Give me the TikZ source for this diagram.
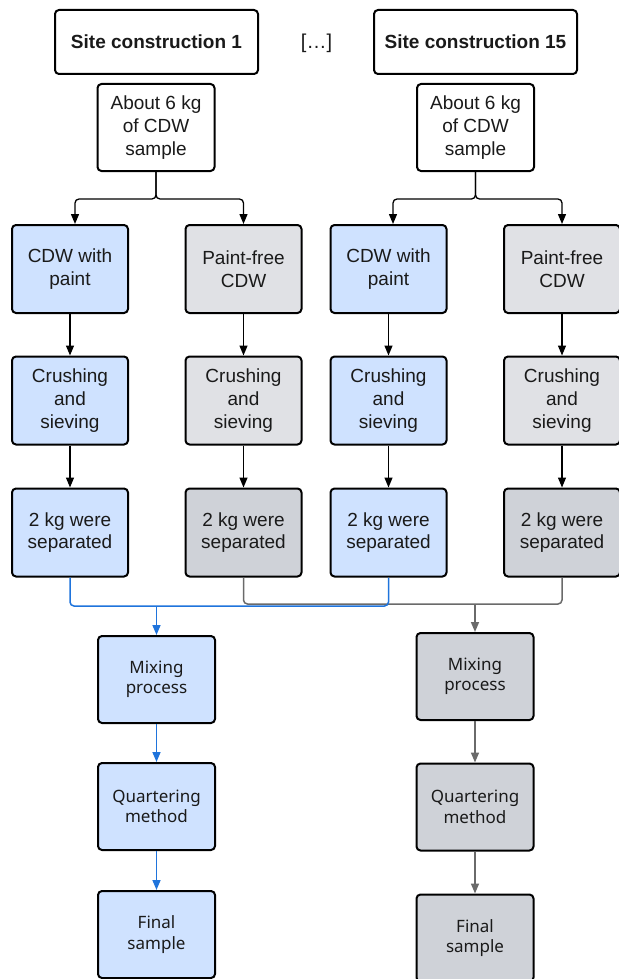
\documentclass[tikz,border=0pt]{standalone}
\usepackage{fontspec}
\setmainfont{Liberation Sans}
\newfontfamily\lowfont{Noto Sans}
\usetikzlibrary{arrows.meta,calc}
\definecolor{bluefill}{HTML}{CFE2FF}
\definecolor{grayfillA}{HTML}{E0E1E5}
\definecolor{grayfillB}{HTML}{CFD2D8}
\definecolor{blueline}{HTML}{1F74DC}
\definecolor{grayline}{HTML}{6A6A6A}
\definecolor{txt}{HTML}{1A1A1A}
\begin{document}
\begin{tikzpicture}[x=1pt,y=-1pt,
  boxbase/.style={draw=black, line width=2pt, rounded corners=4pt, align=center,
    inner sep=0pt, text=txt, font=\fontsize{19}{22.7}\selectfont},
  sitebox/.style={boxbase, fill=white, minimum width=203pt, minimum height=64pt,
    font=\fontsize{19}{22.7}\selectfont\bfseries},
  aboutbox/.style={boxbase, fill=white, minimum width=117pt, minimum height=87pt},
  bluebox/.style={boxbase, fill=bluefill, minimum width=116pt, minimum height=88pt},
  grayboxA/.style={boxbase, fill=grayfillA, minimum width=116pt, minimum height=88pt},
  grayboxB/.style={boxbase, fill=grayfillB, minimum width=116pt, minimum height=88pt},
  lowblue/.style={boxbase, fill=bluefill, minimum width=117pt, minimum height=87pt,
    font=\lowfont\fontsize{17}{20.5}\selectfont},
  lowgray/.style={boxbase, fill=grayfillB, minimum width=117pt, minimum height=87pt,
    font=\lowfont\fontsize{17}{20.5}\selectfont},
  conn/.style={draw=black, line width=1.3pt, rounded corners=4pt},
  connarrow/.style={conn, -{Triangle[length=10pt,width=8pt]}},
  bluecon/.style={draw=blueline, line width=1.5pt, rounded corners=4pt},
  bluearrow/.style={bluecon, -{Triangle[length=10pt,width=8pt]}},
  graycon/.style={draw=grayline, line width=1.5pt, rounded corners=4pt},
  grayarrow/.style={graycon, -{Triangle[length=10pt,width=8pt]}}
]
\useasboundingbox[fill=white] (0,0) rectangle (618,979);

% top
\node[sitebox] (s1) at (156.5,42) {Site construction 1};
\node[sitebox] (s15) at (475.5,42) {Site construction 15};
\node[text=txt, font=\fontsize{20}{24}\selectfont, inner sep=0pt] (dots) at (316.5,43) {[…]};
\node[aboutbox] (a1) at (156,127.5) {About 6 kg\\of CDW\\sample};
\node[aboutbox] (a15) at (475.5,127.5) {About 6 kg\\of CDW\\sample};

% row 1
\node[bluebox]  (c1a) at (70,269) {CDW with\\paint};
\node[grayboxA] (c2a) at (243.5,269) {Paint-free\\CDW};
\node[bluebox]  (c3a) at (388.5,269) {CDW with\\paint};
\node[grayboxA] (c4a) at (562,269) {Paint-free\\CDW};
% row 2
\node[bluebox]  (c1b) at (70,400.5) {Crushing\\and\\sieving};
\node[grayboxA] (c2b) at (243.5,400.5) {Crushing\\and\\sieving};
\node[bluebox]  (c3b) at (388.5,400.5) {Crushing\\and\\sieving};
\node[grayboxA] (c4b) at (562,400.5) {Crushing\\and\\sieving};
% row 3
\node[bluebox]  (c1c) at (70,532.5) {2 kg were\\separated};
\node[grayboxB] (c2c) at (243.5,532.5) {2 kg were\\separated};
\node[bluebox]  (c3c) at (388.5,532.5) {2 kg were\\separated};
\node[grayboxB] (c4c) at (562,532.5) {2 kg were\\separated};

% bottom
\node[lowblue] (mixL) at (156.5,679.5) {Mixing\\process};
\node[lowblue] (quaL) at (156.5,806.5) {Quartering\\method};
\node[lowblue] (finL) at (156.5,934.5) {Final\\sample};
\node[lowgray] (mixR) at (475,676.5) {Mixing\\process};
\node[lowgray] (quaR) at (475,807) {Quartering\\method};
\node[lowgray] (finR) at (475,938) {Final\\sample};

% splits
\draw[connarrow] (a1.south) -- ++(0,27) -| ([xshift=5pt]c1a.north);
\draw[connarrow] (a1.south) -- ++(0,27) -| (c2a.north);
\draw[connarrow] (a15.south) -- ++(0,27) -| ([xshift=4.5pt]c3a.north);
\draw[connarrow] (a15.south) -- ++(0,27) -| (c4a.north);

% column arrows
\foreach \c in {1,2,3,4}{
  \draw[connarrow] (c\c a.south) -- (c\c b.north);
  \draw[connarrow] (c\c b.south) -- (c\c c.north);
}

% merges
\coordinate (mg) at (475,604);
\coordinate (mb) at (156.5,606);
\draw[graycon] (c2c.south) |- (mg) -| (c4c.south);
\draw[bluecon] (c1c.south) |- (mb) -| (c3c.south);
\draw[bluearrow] (mb) -- (mixL.north);
\draw[grayarrow] (mg) -- (mixR.north);

\draw[bluearrow] (mixL.south) -- (quaL.north);
\draw[bluearrow] (quaL.south) -- (finL.north);
\draw[grayarrow] (mixR.south) -- (quaR.north);
\draw[grayarrow] (quaR.south) -- (finR.north);
\end{tikzpicture}
\end{document}
